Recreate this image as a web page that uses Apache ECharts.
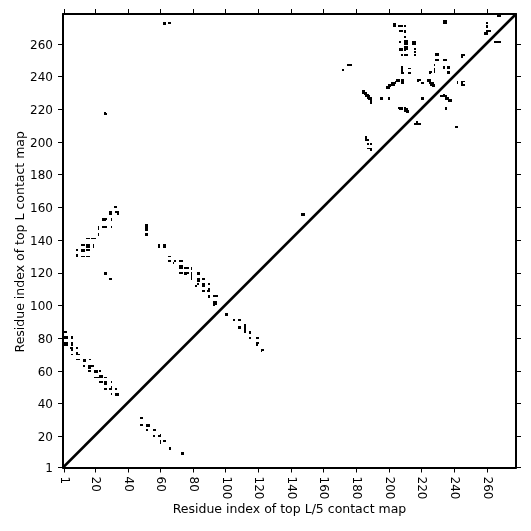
<!DOCTYPE html>
<html>
<head>
<meta charset="utf-8">
<script src="https://cdn.jsdelivr.net/npm/echarts@6/dist/echarts.min.js"></script>
<style>
html, body { margin: 0; padding: 0; background: #fff; }
#chart { width: 531px; height: 531px; }
</style>
</head>
<body>
<div id="chart"></div>
<script>
let axis_ticks = [1, 20, 40, 60, 80, 100, 120, 140, 160, 180, 200, 220, 240, 260];
let x_min = 0.3;
let x_max = 277.9;
let y_min = 0.9;
let y_max = 278.3;
let diagonal = [[0.3, 0.9], [277.9, 278.3]];

// contacts, one list per cluster
let near_start = [[1,84],[2,84],[1,81],[2,81],[3,81],[6,81],[1,80],[2,80],[3,80],[6,80],[1,77],[2,77],[3,77],[6,77],[1,76],[2,76],[3,76],[6,76],[6,74],[5,74],[9,74],[6,73],[6,70],[9,71],[9,70],[10,70]];
let band_low = [[9,67],[10,67],[13,67],[14,67],[13,66],[14,66],[17,67],[13,63],[16,63],[17,63],[18,63],[16,62],[17,62],[19,63],
    [16,60],[17,60],[20,60],[21,60],[20,59],[21,59],[23,60],[20,56],[21,56],[22,56],[23,56],[24,56],[23,57],[24,57],[26,56],[27,56],
    [23,53],[24,53],[26,53],[27,53],[26,52],[27,52],[30,53],[26,49],[27,49],[29,49],[30,49],[30,50],[33,49],[30,46],[33,46],[34,46],[33,45],[34,45]];
let band_far = [[48,31],[49,31],[48,27],[49,27],[52,27],[53,27],[52,26],[53,26],[52,24],[56,24],[57,24],[56,20],[60,21],[59,20],[60,20],
    [60,17],[60,16],[62,17],[63,17],[66,13],[66,12],[73,10],[74,10],[73,9],[74,9]];
let strand_left = [[32,160],[33,160],[29,157],[29,156],[30,157],[30,156],[33,157],[34,157],[34,156],[25,153],[26,153],[27,153],[25,152],[26,152],
    [30,153],[30,152],[22,148],[22,147],[25,148],[26,148],[27,148],[30,148],[22,144],[22,143],[15,141],[16,141],[18,141],[19,141],[20,141],
    [12,137],[13,137],[15,137],[16,137],[15,136],[16,136],[19,137],[19,136],[9,134],[12,134],[13,134],[15,134],[16,134],[12,133],[13,133],
    [9,131],[9,130],[12,130],[13,130],[15,130],[16,130],[26,120],[27,120],[26,119],[27,119],[29,116],[30,116]];
let strand_mid = [[51,149],[52,149],[51,148],[52,148],[51,147],[52,147],[51,146],[52,146],[51,144],[52,144],[51,143],[52,143],[59,137],[59,136],
    [62,137],[63,137],[62,136],[63,136],[147,156],[148,156],[147,155],[148,155],[26,217],[26,218],[27,217]];
let band_mid = [[65,130],[66,130],[65,127],[66,127],[69,127],[68,126],[72,127],[73,127],[72,123],[73,123],[72,124],[73,124],[75,123],[76,123],[77,123],[79,123],[79,122],
    [72,120],[73,120],[75,120],[76,120],[77,120],[75,119],[76,119],[79,120],[79,119],[79,118],[79,117],[79,116],[83,120],[84,120],[83,119],[84,119],
    [83,116],[84,116],[83,115],[84,115],[86,116],[87,116],[83,113],[82,112],[86,113],[87,113],[86,112],[87,112],[90,113],[86,109],[87,109],[89,109],[90,109],[90,110],
    [90,106],[90,105],[93,106],[94,106],[95,106],[93,102],[94,102],[93,101],[94,101],[93,100]];
let band_end = [[100,95],[101,95],[100,94],[101,94],[105,91],[108,91],[109,91],[108,87],[109,87],[108,86],[109,86],[112,88],[112,87],[112,86],[112,85],
    [112,84],[115,84],[115,83],[115,80],[119,80],[120,80],[119,77],[120,77],[119,76],[122,73],[123,73],[122,72]];
let streak_a = [[184,231],[185,231],[184,230],[185,230],[185,229],[186,229],[186,230],[186,228],[187,228],[187,229],[188,228],[188,227],[187,227],[188,226],[189,227],[189,226],[189,225],[189,224],
    [195,227],[196,227],[195,226],[196,226],[200,227],[200,226],[186,203],[186,202],[186,201],[187,201],[187,199],[189,199],[187,196],[188,196],[189,196],[189,195],[172,244],[175,247],[176,247],[177,247]];
let streak_b = [[199,234],[200,234],[199,233],[200,233],[201,235],[201,234],[200,235],[202,235],[203,236],[202,236],[204,236],[204,237],[205,237],[205,238],[206,238],[206,237],[203,235],
    [208,238],[209,238],[208,237],[209,237],[208,236],[209,236],[218,238],[219,238],[218,237],[220,236],[221,236],[220,227],[221,227],[220,226],[221,226]];
let streak_c = [[224,238],[225,238],[224,237],[225,237],[225,236],[226,236],[226,235],[227,236],[227,235],[227,234],[228,234],[228,235],
    [232,228],[233,228],[234,228],[234,229],[235,228],[235,227],[236,227],[236,226],[237,226],[237,225],[235,226],[238,226],[238,225],[235,221],[235,220],
    [242,237],[242,236],[245,237],[246,237],[245,236],[245,235],[246,235],[241,209],[242,209]];
let streak_d = [[206,221],[207,221],[208,221],[207,220],[208,220],[210,221],[210,220],[210,219],[211,220],[211,219],[212,219],[212,218],[211,218],[216,211],[217,212],[217,211],[218,211],[219,211]];
let top_block = [[234,273],[235,273],[234,274],[235,274],[203,272],[204,272],[203,271],[204,271],[206,271],[207,271],[208,271],[210,271],[210,268],[210,267],[210,264],[207,268],[208,268],[207,261],
    [210,261],[211,261],[210,260],[211,260],[210,262],[211,262],[215,261],[216,261],[215,260],[216,260],[207,257],[208,257],[207,256],[208,256],[210,258],[211,258],[210,257],[211,257],[210,256],
    [216,257],[216,255],[216,253],[208,253],[210,253],[211,253],[208,246],[208,245],[208,244],[208,243],[212,245],[213,245],[212,242],[213,242],[208,242],[209,242],
    [62,273],[63,273],[62,272],[63,272],[65,273],[66,273]];
let top_right = [[229,254],[230,254],[229,253],[230,253],[229,250],[230,250],[234,250],[235,250],[228,247],[228,245],[228,244],[228,243],[225,243],[226,243],[225,242],
    [234,246],[236,246],[237,246],[234,245],[236,245],[237,245],[236,243],[237,243],[236,242],[237,242],[245,253],[246,253],[245,252],
    [260,273],[260,271],[260,270],[260,268],[261,268],[262,268],[259,267],[260,267],[259,266],[260,266],[267,277],[268,277],[265,261],[266,261],[267,261],[268,261]];

let contacts = [].concat(near_start, band_low, band_far, strand_left, strand_mid, band_mid, band_end,
    streak_a, streak_b, streak_c, streak_d, top_block, top_right);

let chart_dom = echarts.init(document.getElementById('chart'));
let text_font = 'DejaVu Sans';

function makeAxis(opts) {
    return Object.assign({
        type: 'value',
        splitLine: { show: false },
        axisLine: { show: true, onZero: false, lineStyle: { color: '#000', width: 2 } },
        axisTick: { show: true, customValues: axis_ticks, length: 5, inside: false, lineStyle: { color: '#000', width: 1 } },
    }, opts);
}

// one residue cell, snapped to whole pixels so it stays solid black like the original image
function renderCell(params, api) {
    let c = api.coord([api.value(0), api.value(1)]);
    let half = 0.9;
    let x0 = Math.round(c[0] - half);
    let x1 = Math.round(c[0] + half);
    let y0 = Math.round(c[1] - half);
    let y1 = Math.round(c[1] + half);
    return {
        type: 'rect',
        shape: { x: x0, y: y0, width: x1 - x0, height: y1 - y0 },
        style: { fill: '#000' },
    };
}

function tickText(v) {
    return '{t|' + v + '}';
}

let tick_style = { color: '#000', fontFamily: text_font, fontSize: 12, padding: [3, 0, 0, 0] };

let option = {
    animation: false,
    backgroundColor: '#fff',
    grid: { left: 63, top: 14, width: 453, height: 453.5, containLabel: false, outerBoundsMode: 'none' },
    xAxis: [
        makeAxis({
            min: x_min,
            max: x_max,
            position: 'bottom',
            name: 'Residue index of top L/5 contact map',
            nameLocation: 'middle',
            nameGap: 36,
            nameMoveOverlap: false,
            nameTextStyle: { color: '#000', fontFamily: text_font, fontSize: 12.5 },
            axisLabel: { customValues: axis_ticks, rotate: -90, margin: 9, color: '#000', fontFamily: text_font, fontSize: 12,
                formatter: function (v) { return String(v); } },
        }),
        makeAxis({ min: x_min, max: x_max, position: 'top', axisLabel: { show: false } }),
    ],
    yAxis: [
        makeAxis({
            min: y_min,
            max: y_max,
            position: 'left',
            name: 'Residue index of top L contact map',
            nameLocation: 'middle',
            nameGap: 36,
            nameMoveOverlap: false,
            nameTextStyle: { color: '#000', fontFamily: text_font, fontSize: 12.5, padding: [0, 2, 0, 0] },
            axisLabel: { customValues: axis_ticks, margin: 10, formatter: tickText, rich: { t: tick_style } },
        }),
        makeAxis({ min: y_min, max: y_max, position: 'right', axisLabel: { show: false } }),
    ],
    series: [
        {
            type: 'line',
            data: diagonal,
            showSymbol: false,
            symbol: 'none',
            lineStyle: { color: '#000', width: 2.5 },
            silent: true,
        },
        {
            type: 'custom',
            data: contacts,
            renderItem: renderCell,
            encode: { x: 0, y: 1 },
            silent: true,
        },
    ],
};

chart_dom.setOption(option);
</script>
</body>
</html>
